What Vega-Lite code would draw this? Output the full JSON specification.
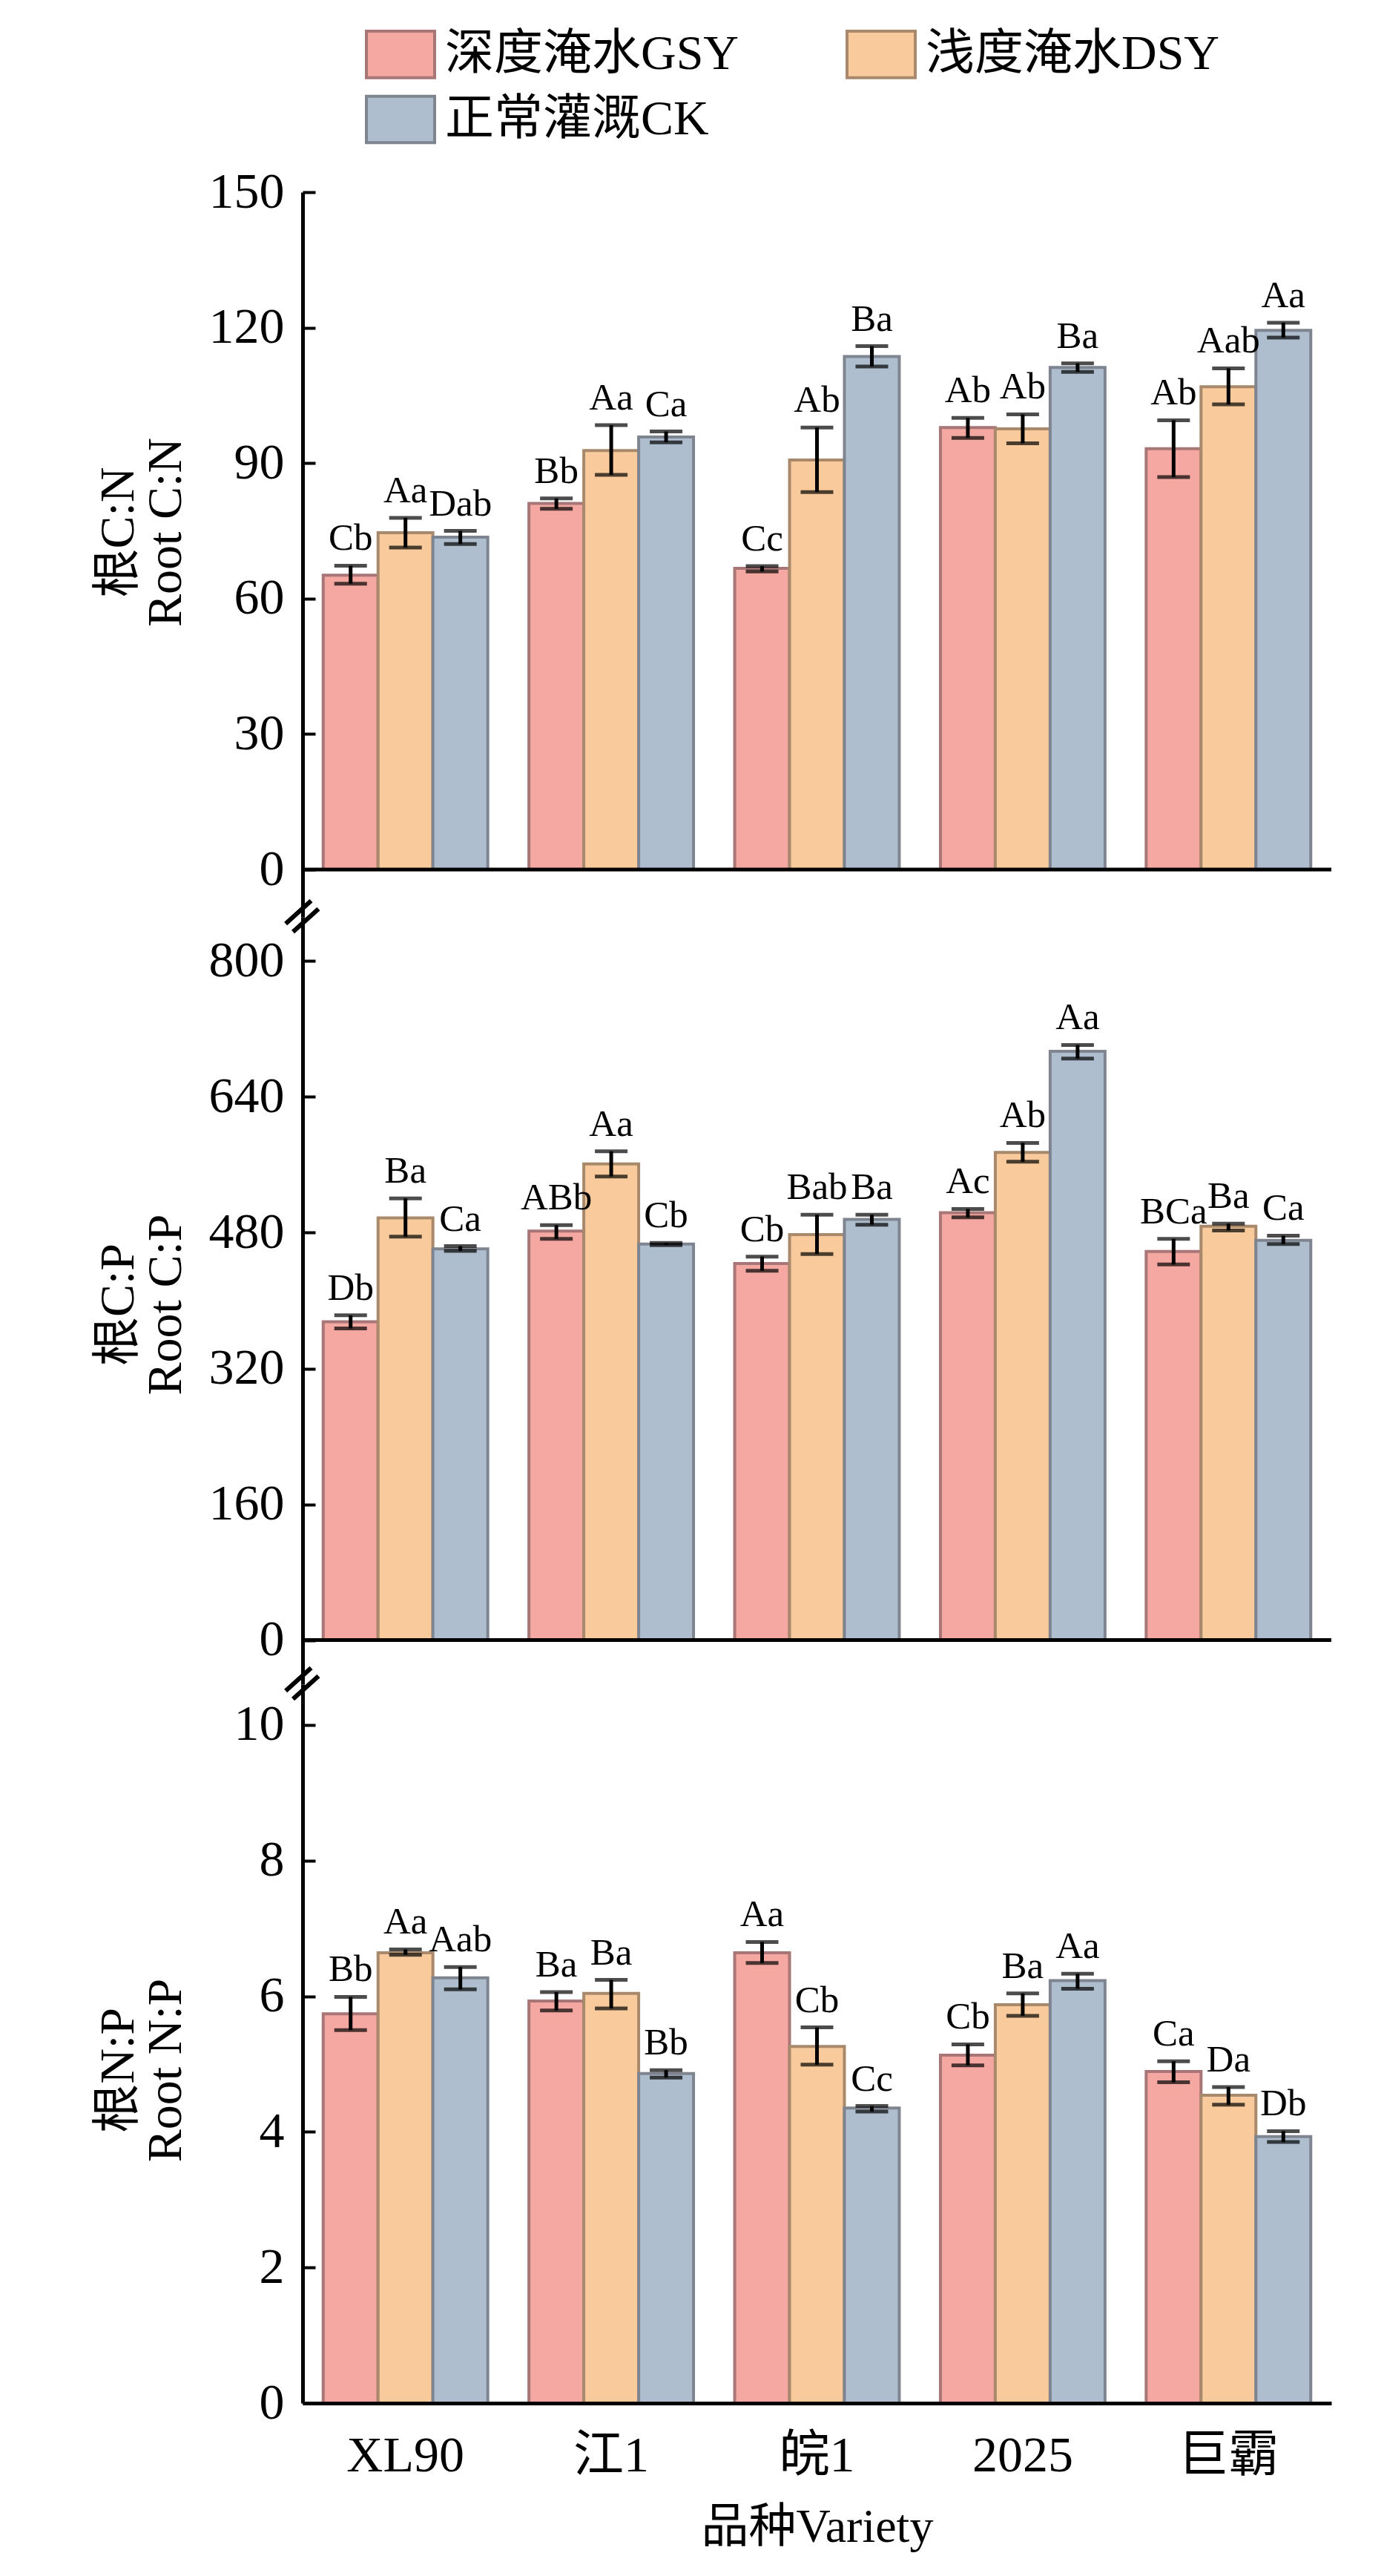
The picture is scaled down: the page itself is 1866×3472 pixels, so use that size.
{
  "$schema": "https://vega.github.io/schema/vega-lite/v6.json",
  "background": "white",
  "padding": {"left": 126, "top": 25, "right": 10, "bottom": 10},
  "datasets": {
    "cn": [
      {"v": "XL90", "t": "深度淹水GSY", "mean": 65.2, "lo": 63.3, "hi": 67.3, "lab": "Cb"},
      {"v": "XL90", "t": "浅度淹水DSY", "mean": 74.6, "lo": 71.3, "hi": 77.9, "lab": "Aa"},
      {"v": "XL90", "t": "正常灌溉CK", "mean": 73.6, "lo": 72.1, "hi": 75.0, "lab": "Dab"},
      {"v": "江1", "t": "深度淹水GSY", "mean": 81.1, "lo": 79.9, "hi": 82.2, "lab": "Bb"},
      {"v": "江1", "t": "浅度淹水DSY", "mean": 92.8, "lo": 87.4, "hi": 98.4, "lab": "Aa"},
      {"v": "江1", "t": "正常灌溉CK", "mean": 95.8, "lo": 94.6, "hi": 97.0, "lab": "Ca"},
      {"v": "皖1", "t": "深度淹水GSY", "mean": 66.7, "lo": 66.0, "hi": 67.2, "lab": "Cc"},
      {"v": "皖1", "t": "浅度淹水DSY", "mean": 90.7, "lo": 83.6, "hi": 97.9, "lab": "Ab"},
      {"v": "皖1", "t": "正常灌溉CK", "mean": 113.6, "lo": 111.4, "hi": 115.9, "lab": "Ba"},
      {"v": "2025", "t": "深度淹水GSY", "mean": 97.9, "lo": 95.6, "hi": 100.0, "lab": "Ab"},
      {"v": "2025", "t": "浅度淹水DSY", "mean": 97.6, "lo": 94.4, "hi": 100.8, "lab": "Ab"},
      {"v": "2025", "t": "正常灌溉CK", "mean": 111.2, "lo": 110.2, "hi": 112.1, "lab": "Ba"},
      {"v": "巨霸", "t": "深度淹水GSY", "mean": 93.2, "lo": 86.9, "hi": 99.5, "lab": "Ab"},
      {"v": "巨霸", "t": "浅度淹水DSY", "mean": 106.9, "lo": 103.0, "hi": 111.0, "lab": "Aab"},
      {"v": "巨霸", "t": "正常灌溉CK", "mean": 119.4, "lo": 117.8, "hi": 121.1, "lab": "Aa"}
    ],
    "cp": [
      {"v": "XL90", "t": "深度淹水GSY", "mean": 375, "lo": 367.3, "hi": 382.7, "lab": "Db"},
      {"v": "XL90", "t": "浅度淹水DSY", "mean": 497.5, "lo": 475.3, "hi": 520.4, "lab": "Ba"},
      {"v": "XL90", "t": "正常灌溉CK", "mean": 461, "lo": 458.6, "hi": 464.2, "lab": "Ca"},
      {"v": "江1", "t": "深度淹水GSY", "mean": 482, "lo": 472.8, "hi": 488.9, "lab": "ABb"},
      {"v": "江1", "t": "浅度淹水DSY", "mean": 561, "lo": 546.3, "hi": 575.9, "lab": "Aa"},
      {"v": "江1", "t": "正常灌溉CK", "mean": 466.7, "lo": 465.4, "hi": 467.9, "lab": "Cb"},
      {"v": "皖1", "t": "深度淹水GSY", "mean": 443.8, "lo": 435.2, "hi": 451.9, "lab": "Cb"},
      {"v": "皖1", "t": "浅度淹水DSY", "mean": 477.8, "lo": 454.9, "hi": 501.2, "lab": "Bab"},
      {"v": "皖1", "t": "正常灌溉CK", "mean": 495.7, "lo": 489.5, "hi": 501.2, "lab": "Ba"},
      {"v": "2025", "t": "深度淹水GSY", "mean": 503.7, "lo": 498.1, "hi": 508.0, "lab": "Ac"},
      {"v": "2025", "t": "浅度淹水DSY", "mean": 574.7, "lo": 563.6, "hi": 585.8, "lab": "Ab"},
      {"v": "2025", "t": "正常灌溉CK", "mean": 693.8, "lo": 685.2, "hi": 701.2, "lab": "Aa"},
      {"v": "巨霸", "t": "深度淹水GSY", "mean": 458, "lo": 442.6, "hi": 472.8, "lab": "BCa"},
      {"v": "巨霸", "t": "浅度淹水DSY", "mean": 487.7, "lo": 482.7, "hi": 490.7, "lab": "Ba"},
      {"v": "巨霸", "t": "正常灌溉CK", "mean": 471, "lo": 466.7, "hi": 476.5, "lab": "Ca"}
    ],
    "np": [
      {"v": "XL90", "t": "深度淹水GSY", "mean": 5.74, "lo": 5.50, "hi": 5.99, "lab": "Bb"},
      {"v": "XL90", "t": "浅度淹水DSY", "mean": 6.64, "lo": 6.61, "hi": 6.69, "lab": "Aa"},
      {"v": "XL90", "t": "正常灌溉CK", "mean": 6.27, "lo": 6.10, "hi": 6.43, "lab": "Aab"},
      {"v": "江1", "t": "深度淹水GSY", "mean": 5.93, "lo": 5.79, "hi": 6.06, "lab": "Ba"},
      {"v": "江1", "t": "浅度淹水DSY", "mean": 6.04, "lo": 5.82, "hi": 6.24, "lab": "Ba"},
      {"v": "江1", "t": "正常灌溉CK", "mean": 4.86, "lo": 4.80, "hi": 4.91, "lab": "Bb"},
      {"v": "皖1", "t": "深度淹水GSY", "mean": 6.64, "lo": 6.49, "hi": 6.80, "lab": "Aa"},
      {"v": "皖1", "t": "浅度淹水DSY", "mean": 5.26, "lo": 4.99, "hi": 5.54, "lab": "Cb"},
      {"v": "皖1", "t": "正常灌溉CK", "mean": 4.35, "lo": 4.30, "hi": 4.38, "lab": "Cc"},
      {"v": "2025", "t": "深度淹水GSY", "mean": 5.13, "lo": 4.98, "hi": 5.29, "lab": "Cb"},
      {"v": "2025", "t": "浅度淹水DSY", "mean": 5.875, "lo": 5.71, "hi": 6.04, "lab": "Ba"},
      {"v": "2025", "t": "正常灌溉CK", "mean": 6.23, "lo": 6.11, "hi": 6.33, "lab": "Aa"},
      {"v": "巨霸", "t": "深度淹水GSY", "mean": 4.89, "lo": 4.73, "hi": 5.04, "lab": "Ca"},
      {"v": "巨霸", "t": "浅度淹水DSY", "mean": 4.54, "lo": 4.40, "hi": 4.66, "lab": "Da"},
      {"v": "巨霸", "t": "正常灌溉CK", "mean": 3.93, "lo": 3.85, "hi": 4.01, "lab": "Db"}
    ]
  },
  "spacing": 0,
  "bounds": "flush",
  "resolve": {"scale": {"x": "independent", "y": "independent"}},
  "vconcat": [
    {
      "width": 1387,
      "height": 977,
      "data": {"name": "cn"},
      "encoding": {
        "x": {"field": "v", "type": "nominal", "sort": ["XL90", "江1", "皖1", "2025", "巨霸"], "scale": {"paddingInner": 0.2, "paddingOuter": 0.1}, "axis": null},
        "xOffset": {"field": "t", "type": "nominal", "scale": {"domain": ["深度淹水GSY", "浅度淹水DSY", "正常灌溉CK"]}}
      },
      "layer": [
        {
          "mark": {"type": "bar", "strokeWidth": 4},
          "encoding": {
            "y": {"field": "mean", "type": "quantitative", "scale": {"domain": [-10.5, 150], "nice": false, "zero": false},
              "axis": {"values": [0, 30, 60, 90, 120, 150], "title": ["根C:N", "Root C:N"], "titleX": -249, "titleY": 458}},
            "fill": {"field": "t", "type": "nominal", "scale": {"domain": ["深度淹水GSY", "浅度淹水DSY", "正常灌溉CK"], "range": ["#F5A8A2", "#F9CB9C", "#AFBECF"]},
              "legend": {"orient": "none", "legendX": 84, "legendY": -234, "columns": 2, "direction": "horizontal", "title": null, "symbolType": "M-1,-0.68H1V0.68H-1Z", "symbolSize": 8464, "symbolStrokeWidth": 4, "symbolOpacity": 1, "labelFontSize": 66, "labelColor": "black", "labelOffset": 12, "labelLimit": 0, "columnPadding": 137, "rowPadding": -8}},
            "stroke": {"field": "t", "type": "nominal", "scale": {"domain": ["深度淹水GSY", "浅度淹水DSY", "正常灌溉CK"], "range": ["#A87676", "#A8896C", "#7F8590"]}}
          }
        },
        {"mark": {"type": "rule", "color": "black", "strokeWidth": 5}, "encoding": {"y": {"field": "lo", "type": "quantitative"}, "y2": {"field": "hi"}}},
        {"mark": {"type": "tick", "color": "black", "size": 44, "thickness": 5}, "encoding": {"y": {"field": "lo", "type": "quantitative"}}},
        {"mark": {"type": "tick", "color": "black", "size": 44, "thickness": 5}, "encoding": {"y": {"field": "hi", "type": "quantitative"}}},
        {"mark": {"type": "text", "fontSize": 51, "baseline": "alphabetic", "dy": -21, "color": "black"}, "encoding": {"y": {"field": "hi", "type": "quantitative"}, "text": {"field": "lab"}}},
        {"data": {"values": [{}]}, "mark": {"type": "rule", "color": "black", "strokeWidth": 5}, "encoding": {"y": {"datum": 0}, "x": null, "xOffset": null}}
      ]
    },
    {
      "width": 1387,
      "height": 1034,
      "data": {"name": "cp"},
      "resolve": {"scale": {"x": "independent"}},
      "layer": [
        {
          "encoding": {
            "x": {"field": "v", "type": "nominal", "sort": ["XL90", "江1", "皖1", "2025", "巨霸"], "scale": {"paddingInner": 0.2, "paddingOuter": 0.1}, "axis": null},
            "xOffset": {"field": "t", "type": "nominal", "scale": {"domain": ["深度淹水GSY", "浅度淹水DSY", "正常灌溉CK"]}}
          },
          "layer": [
            {
              "mark": {"type": "bar", "strokeWidth": 4},
              "encoding": {
                "y": {"field": "mean", "type": "quantitative", "scale": {"domain": [-52, 852], "nice": false, "zero": false},
                  "axis": {"values": [0, 160, 320, 480, 640, 800], "title": ["根C:P", "Root C:P"], "titleX": -249, "titleY": 522}},
                "fill": {"field": "t", "type": "nominal", "scale": {"domain": ["深度淹水GSY", "浅度淹水DSY", "正常灌溉CK"], "range": ["#F5A8A2", "#F9CB9C", "#AFBECF"]}},
                "stroke": {"field": "t", "type": "nominal", "scale": {"domain": ["深度淹水GSY", "浅度淹水DSY", "正常灌溉CK"], "range": ["#A87676", "#A8896C", "#7F8590"]}}
              }
            },
            {"mark": {"type": "rule", "color": "black", "strokeWidth": 5}, "encoding": {"y": {"field": "lo", "type": "quantitative"}, "y2": {"field": "hi"}}},
            {"mark": {"type": "tick", "color": "black", "size": 44, "thickness": 5}, "encoding": {"y": {"field": "lo", "type": "quantitative"}}},
            {"mark": {"type": "tick", "color": "black", "size": 44, "thickness": 5}, "encoding": {"y": {"field": "hi", "type": "quantitative"}}},
            {"mark": {"type": "text", "fontSize": 51, "baseline": "alphabetic", "dy": -21, "color": "black"}, "encoding": {"y": {"field": "hi", "type": "quantitative"}, "text": {"field": "lab"}}}
          ]
        },
        {"data": {"values": [{}]}, "mark": {"type": "rule", "color": "black", "strokeWidth": 5}, "encoding": {"y": {"datum": 0}}},
        {"data": {"values": [{}]}, "mark": {"type": "text", "text": "=", "font": "DejaVu Sans", "fontSize": 74, "angle": -42, "align": "center", "baseline": "middle", "color": "black"},
          "encoding": {"x": {"datum": 0, "type": "quantitative", "scale": {"domain": [0, 1]}, "axis": null}, "y": {"datum": 852}}}
      ]
    },
    {
      "width": 1387,
      "height": 969,
      "data": {"name": "np"},
      "resolve": {"scale": {"x": "independent"}},
      "layer": [
        {
          "encoding": {
            "x": {"field": "v", "type": "nominal", "sort": ["XL90", "江1", "皖1", "2025", "巨霸"], "scale": {"paddingInner": 0.2, "paddingOuter": 0.1},
              "axis": {"title": "品种Variety", "labelAngle": 0, "ticks": false, "tickSize": 0, "labelPadding": 37, "titlePadding": 30, "titleFontSize": 64, "domain": true, "zindex": 1}},
            "xOffset": {"field": "t", "type": "nominal", "scale": {"domain": ["深度淹水GSY", "浅度淹水DSY", "正常灌溉CK"]}}
          },
          "layer": [
            {
              "mark": {"type": "bar", "strokeWidth": 4},
              "encoding": {
                "y": {"field": "mean", "type": "quantitative", "scale": {"domain": [0, 10.6], "nice": false, "zero": false},
                  "axis": {"values": [0, 2, 4, 6, 8, 10], "format": "d", "title": ["根N:P", "Root N:P"], "titleX": -249, "titleY": 520}},
                "fill": {"field": "t", "type": "nominal", "scale": {"domain": ["深度淹水GSY", "浅度淹水DSY", "正常灌溉CK"], "range": ["#F5A8A2", "#F9CB9C", "#AFBECF"]}},
                "stroke": {"field": "t", "type": "nominal", "scale": {"domain": ["深度淹水GSY", "浅度淹水DSY", "正常灌溉CK"], "range": ["#A87676", "#A8896C", "#7F8590"]}}
              }
            },
            {"mark": {"type": "rule", "color": "black", "strokeWidth": 5}, "encoding": {"y": {"field": "lo", "type": "quantitative"}, "y2": {"field": "hi"}}},
            {"mark": {"type": "tick", "color": "black", "size": 44, "thickness": 5}, "encoding": {"y": {"field": "lo", "type": "quantitative"}}},
            {"mark": {"type": "tick", "color": "black", "size": 44, "thickness": 5}, "encoding": {"y": {"field": "hi", "type": "quantitative"}}},
            {"mark": {"type": "text", "fontSize": 51, "baseline": "alphabetic", "dy": -21, "color": "black"}, "encoding": {"y": {"field": "hi", "type": "quantitative"}, "text": {"field": "lab"}}}
          ]
        },
        {"data": {"values": [{}]}, "mark": {"type": "text", "text": "=", "font": "DejaVu Sans", "fontSize": 74, "angle": -42, "align": "center", "baseline": "middle", "color": "black"},
          "encoding": {"x": {"datum": 0, "type": "quantitative", "scale": {"domain": [0, 1]}, "axis": null}, "y": {"datum": 10.6}}}
      ]
    }
  ],
  "config": {
    "font": "Liberation Serif, Noto Sans CJK SC",
    "view": {"stroke": null},
    "axis": {
      "domainColor": "black",
      "domainWidth": 5,
      "tickColor": "black",
      "tickWidth": 4,
      "tickSize": -17,
      "labelPadding": 42,
      "labelFontSize": 68,
      "labelColor": "black",
      "labelFont": "Liberation Serif, Noto Sans CJK SC",
      "titleFont": "Liberation Serif, Noto Sans CJK SC",
      "titleFontSize": 66,
      "titleFontWeight": "normal",
      "titleColor": "black",
      "titleLineHeight": 64,
      "grid": false
    },
    "axisY": {"titleBaseline": "middle", "titleAngle": 270},
    "legend": {"labelFont": "Liberation Serif, Noto Sans CJK SC"}
  }
}
